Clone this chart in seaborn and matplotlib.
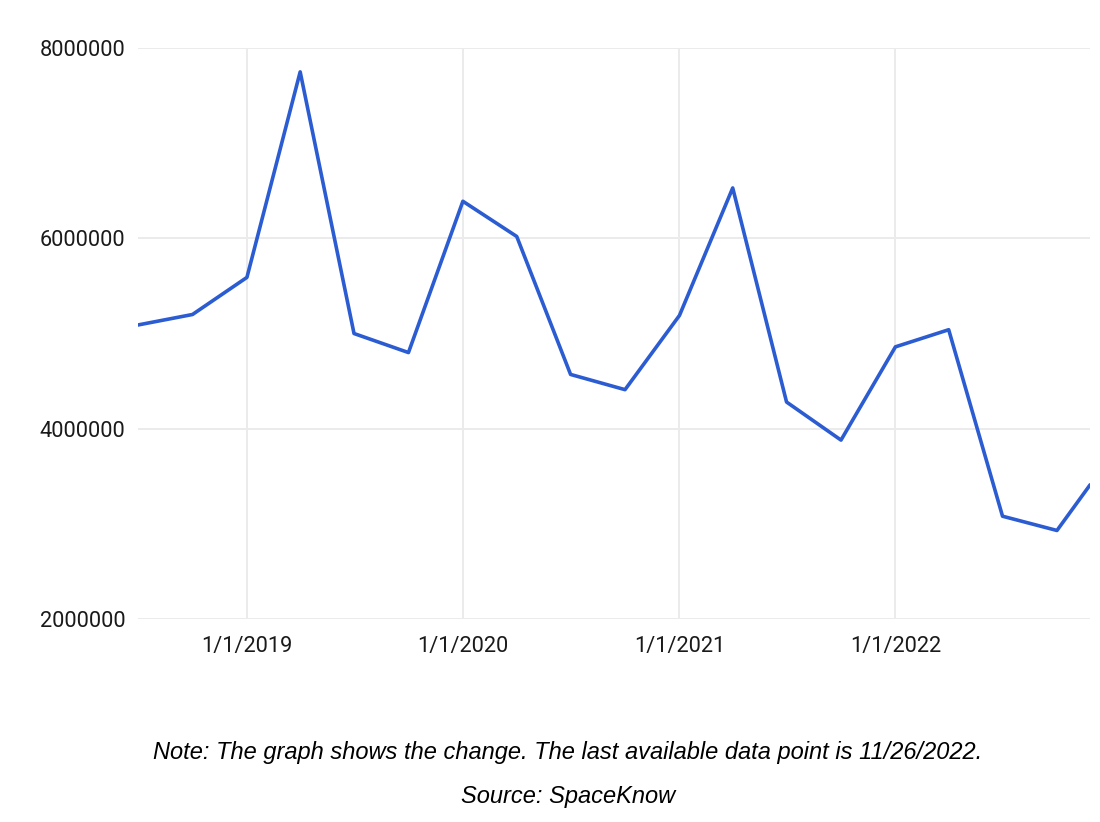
import pandas as pd
import matplotlib.pyplot as plt
import seaborn as sns

# 분기별 데이터 (마지막 점은 2022-11-26)
dates = ['2018-07-01', '2018-10-01', '2019-01-01', '2019-04-01', '2019-07-01',
         '2019-10-01', '2020-01-01', '2020-04-01', '2020-07-01', '2020-10-01',
         '2021-01-01', '2021-04-01', '2021-07-01', '2021-10-01', '2022-01-01',
         '2022-04-01', '2022-07-01', '2022-10-01', '2022-11-26']
values = [5090000, 5200000, 5590000, 7750000, 5000000,
          4800000, 6390000, 6020000, 4570000, 4410000,
          5190000, 6530000, 4280000, 3880000, 4860000,
          5040000, 3080000, 2930000, 3410000]
year_ticks = ['2019-01-01', '2020-01-01', '2021-01-01', '2022-01-01']
year_labels = ['1/1/2019', '1/1/2020', '1/1/2021', '1/1/2022']
y_ticks = [2000000, 4000000, 6000000, 8000000]

df = pd.DataFrame({'date': pd.to_datetime(dates), 'value': values})

sns.set_style('white')
plt.rcParams['font.family'] = ['Roboto', 'DejaVu Sans']

fig = plt.figure(figsize=(11, 8.22), dpi=100)
ax = fig.add_axes([0.1255, 0.247, 0.8655, 0.6945])

sns.lineplot(data=df, x='date', y='value', ax=ax, color='#2B5CD1', linewidth=2.6)

ax.set_xlim(df['date'].iloc[0], df['date'].iloc[-1])
ax.set_ylim(2000000, 8000000)
ax.set_yticks(y_ticks)
ax.set_yticklabels([str(v) for v in y_ticks])
ax.set_xticks(pd.to_datetime(year_ticks))
ax.set_xticklabels(year_labels)

ax.grid(True, color='#ebebeb', linewidth=1.4)
ax.set_axisbelow(True)
for s in ax.spines.values():
    s.set_visible(False)
ax.tick_params(axis='both', length=0, labelsize=15.7, labelcolor='#1a1a1a')
ax.tick_params(axis='y', pad=9)
ax.tick_params(axis='x', pad=12)
ax.set_xlabel('')
ax.set_ylabel('')

note_font = ['Liberation Sans', 'DejaVu Sans']
fig.text(0.516, 0.084, 'Note: The graph shows the change. The last available data point is 11/26/2022.',
         ha='center', va='center', fontsize=17, style='italic', family=note_font, color='black')
fig.text(0.516, 0.0316, 'Source: SpaceKnow',
         ha='center', va='center', fontsize=17, style='italic', family=note_font, color='black')

fig.savefig('out.png', dpi=100, facecolor='white')
